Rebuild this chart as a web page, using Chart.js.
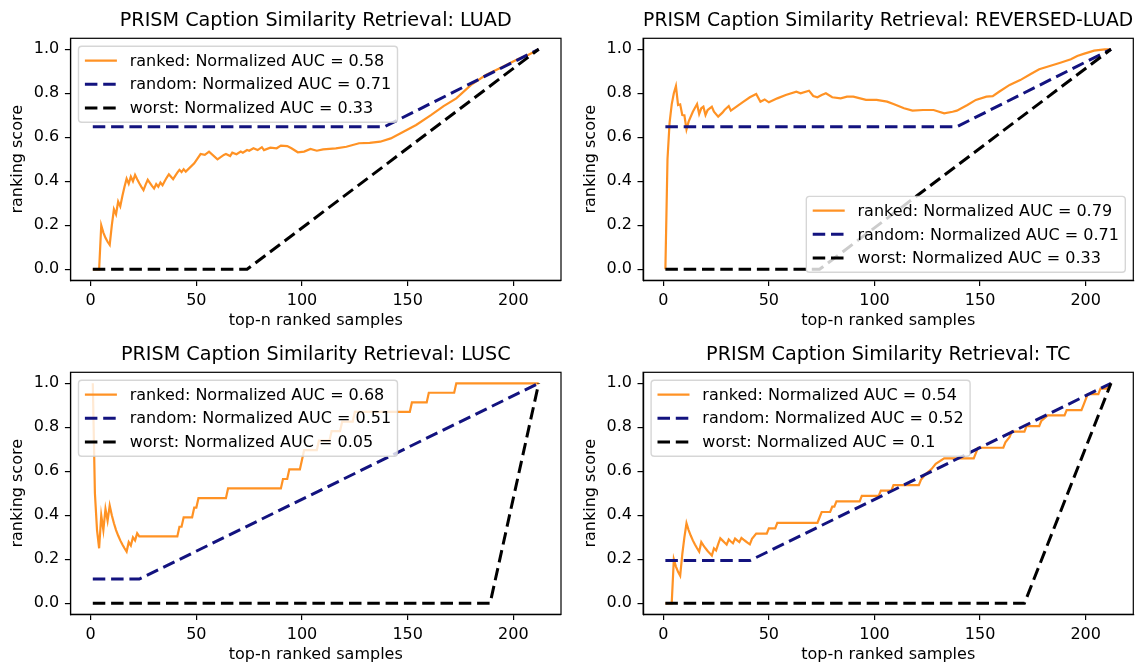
<!DOCTYPE html>
<html>
<head>
<meta charset="utf-8">
<script src="https://cdn.jsdelivr.net/npm/chart.js@4.4.1/dist/chart.umd.min.js"></script>
<style>
html,body{margin:0;padding:0;background:#fff;width:1145px;height:664px;overflow:hidden;position:relative;}
canvas{position:absolute;}
</style>
</head>
<body>
<canvas id="c1" width="572" height="340" style="left:0px;top:0px"></canvas>
<canvas id="c2" width="573" height="340" style="left:572px;top:0px"></canvas>
<canvas id="c3" width="572" height="340" style="left:0px;top:334px"></canvas>
<canvas id="c4" width="573" height="340" style="left:572px;top:334px"></canvas>
<script>
// ---------- data ----------
const xTicks = [0, 50, 100, 150, 200];
const yTicks = [0.0, 0.2, 0.4, 0.6, 0.8, 1.0];
const titles = [
  'PRISM Caption Similarity Retrieval: LUAD',
  'PRISM Caption Similarity Retrieval: REVERSED-LUAD',
  'PRISM Caption Similarity Retrieval: LUSC',
  'PRISM Caption Similarity Retrieval: TC'
];
const aucRanked = [0.58, 0.79, 0.68, 0.54];
const aucRandom = [0.71, 0.71, 0.51, 0.52];
const aucWorst  = [0.33, 0.33, 0.05, 0.1];

// LUAD
const luadRankedX = [1,2,3,4,5,6,7,8,9,10,11,12,13,14,15,16,17,18,19,20,21,22,23,24,25,26,27,28,29,30,31,32,33,34,35,36,37,38,39,40,41,42,43,44,45,49,52,54,56,60,63,64,66,67,69,71,72,74,75,77,79,81,82,85,88,90,93,95,98,101,104,107,110,116,121,127,132,137,142,148,154,161,167,173,180,187,195,202,207,212];
const luadRankedY = [0,0,0,0,0.2,0.167,0.143,0.125,0.111,0.2,0.273,0.25,0.308,0.286,0.333,0.375,0.412,0.389,0.421,0.4,0.429,0.409,0.391,0.375,0.36,0.385,0.407,0.393,0.379,0.367,0.387,0.375,0.394,0.382,0.4,0.417,0.432,0.421,0.41,0.425,0.439,0.452,0.442,0.455,0.444,0.482,0.524,0.52,0.535,0.5,0.52,0.524,0.515,0.53,0.523,0.535,0.53,0.542,0.539,0.55,0.542,0.555,0.542,0.553,0.55,0.562,0.56,0.55,0.532,0.535,0.547,0.539,0.545,0.55,0.557,0.573,0.575,0.58,0.595,0.625,0.656,0.701,0.742,0.777,0.838,0.883,0.921,0.955,0.974,1.0];
const luadRandomX = [1, 139, 212];
const luadRandomY = [0.648, 0.648, 1.0];
const luadWorstX  = [1, 74, 212];
const luadWorstY  = [0, 0, 1.0];

// REVERSED-LUAD
const revRankedX = [1,2,3,4,5,6,7,8,9,10,11,12,14,16,17,18,19,20,21,23,24,26,28,29,31,32,35,38,41,44,46,48,50,54,58,63,65,69,71,73,75,77,80,84,87,90,96,101,106,109,114,118,123,128,133,137,139,144,148,153,156,159,164,169,174,178,183,188,193,196,199,204,209,212];
const revRankedY = [0,0.5,0.667,0.75,0.8,0.833,0.747,0.75,0.701,0.7,0.636,0.671,0.716,0.751,0.706,0.732,0.739,0.701,0.724,0.739,0.716,0.694,0.712,0.724,0.742,0.721,0.742,0.762,0.782,0.797,0.762,0.772,0.759,0.777,0.792,0.807,0.8,0.812,0.788,0.782,0.792,0.8,0.782,0.777,0.785,0.785,0.77,0.77,0.762,0.751,0.732,0.721,0.724,0.724,0.709,0.716,0.721,0.747,0.77,0.785,0.787,0.807,0.838,0.86,0.888,0.909,0.924,0.939,0.955,0.97,0.979,0.994,1.0,1.0];
const revRandomX = [1, 139, 212];
const revRandomY = [0.648, 0.648, 1.0];
const revWorstX  = [1, 74, 212];
const revWorstY  = [0, 0, 1.0];

// LUSC
const luscRankedX = [1,2,3,4,5,6,7,8,9,10,11,12,13,14,15,16,17,18,19,20,21,22,23,41,42,43,44,48,49,50,51,64,65,90,91,93,94,99,100,101,107,108,113,114,118,119,124,125,151,152,159,160,172,173,212];
const luscRankedY = [1.0,0.5,0.333,0.25,0.4,0.333,0.429,0.375,0.444,0.4,0.364,0.333,0.308,0.286,0.267,0.25,0.235,0.278,0.263,0.3,0.286,0.318,0.304,0.304,0.348,0.348,0.391,0.391,0.435,0.435,0.478,0.478,0.522,0.522,0.565,0.565,0.609,0.609,0.652,0.696,0.696,0.739,0.739,0.783,0.783,0.826,0.826,0.870,0.870,0.913,0.913,0.957,0.957,1.0,1.0];
const luscRandomX = [1, 23, 212];
const luscRandomY = [0.11, 0.11, 1.0];
const luscWorstX  = [1, 189, 212];
const luscWorstY  = [0, 0, 1.0];

// TC
const tcRankedX = [1,2,3,4,5,6,7,8,9,10,11,12,13,14,15,16,17,18,19,20,21,22,23,24,25,26,27,28,29,30,31,32,33,34,35,36,37,38,39,40,41,42,44,49,50,53,54,73,74,75,79,80,81,82,93,94,102,103,108,109,121,122,124,127,129,133,147,148,149,161,162,164,165,171,172,178,179,182,190,191,198,199,200,201,206,207,210,212];
const tcRankedY = [0,0,0,0,0.2,0.167,0.143,0.125,0.222,0.3,0.364,0.333,0.308,0.286,0.267,0.25,0.235,0.278,0.263,0.25,0.238,0.227,0.217,0.25,0.24,0.269,0.296,0.286,0.276,0.267,0.29,0.281,0.273,0.294,0.286,0.278,0.297,0.289,0.282,0.275,0.268,0.293,0.317,0.317,0.341,0.341,0.366,0.366,0.39,0.415,0.415,0.439,0.439,0.463,0.463,0.488,0.488,0.512,0.512,0.537,0.537,0.561,0.585,0.61,0.634,0.659,0.659,0.683,0.707,0.707,0.732,0.756,0.78,0.78,0.805,0.805,0.829,0.854,0.854,0.878,0.878,0.902,0.927,0.951,0.951,0.976,0.976,1.0];
const tcRandomX = [1, 41, 212];
const tcRandomY = [0.194, 0.194, 1.0];
const tcWorstX  = [1, 171, 212];
const tcWorstY  = [0, 0, 1.0];

// ---------- styling / layout ----------
const FONT = '"DejaVu Sans", sans-serif';
Chart.defaults.font.family = FONT;
Chart.defaults.color = '#000';
const ORANGE = '#ff9224';
const NAVY = '#13137f';
const DASH = [12.5, 5.8];

function pts(xs, ys) { return xs.map((x, i) => ({x: x, y: ys[i]})); }

const boxLegend = {
  id: 'boxLegend',
  afterDatasetsDraw(chart, args, opts) {
    const ctx = chart.ctx, ca = chart.chartArea;
    ctx.save();
    ctx.strokeStyle = '#000';
    ctx.lineWidth = 1.2;
    ctx.strokeRect(ca.left, ca.top, ca.right - ca.left, ca.bottom - ca.top);
    const fs = 16;
    ctx.font = fs + 'px ' + FONT;
    const ds = chart.data.datasets;
    const widths = ds.map(d => ctx.measureText(d.label).width);
    const pad = 6.4, hl = 32, htp = 12.8, rowH = 15.7, ls = 8, bap = 8;
    const W = pad * 2 + hl + htp + Math.max(...widths);
    const H = pad * 2 + ds.length * rowH + (ds.length - 1) * ls;
    let x0, y0;
    if (opts.pos === 'lr') { x0 = ca.right - bap - W; y0 = ca.bottom - bap - H; }
    else { x0 = ca.left + bap; y0 = ca.top + bap; }
    const r = 3.2;
    ctx.beginPath();
    ctx.moveTo(x0 + r, y0);
    ctx.lineTo(x0 + W - r, y0); ctx.arcTo(x0 + W, y0, x0 + W, y0 + r, r);
    ctx.lineTo(x0 + W, y0 + H - r); ctx.arcTo(x0 + W, y0 + H, x0 + W - r, y0 + H, r);
    ctx.lineTo(x0 + r, y0 + H); ctx.arcTo(x0, y0 + H, x0, y0 + H - r, r);
    ctx.lineTo(x0, y0 + r); ctx.arcTo(x0, y0, x0 + r, y0, r);
    ctx.closePath();
    ctx.fillStyle = 'rgba(255,255,255,0.8)';
    ctx.fill();
    ctx.strokeStyle = 'rgba(204,204,204,0.8)';
    ctx.lineWidth = 1.4;
    ctx.stroke();
    ds.forEach((d, i) => {
      const cy = y0 + pad + rowH / 2 + i * (rowH + ls);
      ctx.save();
      ctx.strokeStyle = d.borderColor;
      ctx.lineWidth = d.borderWidth;
      ctx.setLineDash(d.borderDash || []);
      ctx.beginPath();
      ctx.moveTo(x0 + pad, cy);
      ctx.lineTo(x0 + pad + hl, cy);
      ctx.stroke();
      ctx.restore();
      ctx.fillStyle = '#000';
      ctx.textBaseline = 'middle';
      ctx.textAlign = 'left';
      ctx.fillText(d.label, x0 + pad + hl + htp, cy + 1);
    });
    ctx.restore();
  }
};

const panels = [
  {id: 'c1', canvasLeft: 0,   areaLeft: 70.5,  areaRight: 561.0,  legend: 'ul', rx: luadRankedX, ry: luadRankedY, ax: luadRandomX, ay: luadRandomY, wx: luadWorstX, wy: luadWorstY},
  {id: 'c2', canvasLeft: 572, areaLeft: 643.1, areaRight: 1133.3, legend: 'lr', rx: revRankedX,  ry: revRankedY,  ax: revRandomX,  ay: revRandomY,  wx: revWorstX,  wy: revWorstY},
  {id: 'c3', canvasLeft: 0,   areaLeft: 70.5,  areaRight: 561.0,  legend: 'ul', rx: luscRankedX, ry: luscRankedY, ax: luscRandomX, ay: luscRandomY, wx: luscWorstX, wy: luscWorstY},
  {id: 'c4', canvasLeft: 572, areaLeft: 643.1, areaRight: 1133.3, legend: 'ul', rx: tcRankedX,   ry: tcRankedY,   ax: tcRandomX,   ay: tcRandomY,   wx: tcWorstX,   wy: tcWorstY}
];

panels.forEach((p, k) => {
  const canvas = document.getElementById(p.id);
  const cw = canvas.width, ch = canvas.height;
  const areaTop = 38.3, areaBottom = 280.3;
  const yAxisW = p.areaLeft - p.canvasLeft;
  const xAxisH = ch - areaBottom;
  const ylabelCenter = p.areaLeft - 70.5 + 18.3 - p.canvasLeft;
  const tickFont = {size: 16, family: FONT};
  new Chart(canvas, {
    type: 'line',
    data: {
      datasets: [
        {label: 'ranked: Normalized AUC = ' + aucRanked[k], data: pts(p.rx, p.ry), borderColor: ORANGE, borderWidth: 2.2, order: 2, fill: false},
        {label: 'random: Normalized AUC = ' + aucRandom[k], data: pts(p.ax, p.ay), borderColor: NAVY, borderWidth: 3, borderDash: DASH, order: 1, fill: false},
        {label: 'worst: Normalized AUC = ' + aucWorst[k], data: pts(p.wx, p.wy), borderColor: '#000', borderWidth: 3, borderDash: DASH, order: 0, fill: false}
      ]
    },
    options: {
      responsive: false,
      animation: false,
      devicePixelRatio: 1,
      layout: {padding: {left: 0, top: 0, bottom: 0, right: p.canvasLeft + cw - p.areaRight}},
      elements: {point: {radius: 0, hoverRadius: 0}, line: {tension: 0}},
      plugins: {
        legend: {display: false},
        tooltip: {enabled: false},
        title: {display: true, fullSize: false, text: titles[k], color: '#000', font: {size: 19.2, family: FONT, weight: 'normal'}, padding: {top: 9, bottom: areaTop - 9 - 19.2 * 1.2}},
        boxLegend: {pos: p.legend}
      },
      scales: {
        x: {
          type: 'linear', min: -9.55, max: 222.55,
          afterBuildTicks: s => { s.ticks = xTicks.map(v => ({value: v})); },
          afterFit: s => { s.height = xAxisH; },
          ticks: {font: tickFont, color: '#000', padding: 5.6, maxRotation: 0, autoSkip: false, callback: v => String(v)},
          grid: {drawOnChartArea: false, drawTicks: true, tickLength: 5.6, color: '#000', lineWidth: 1.2},
          border: {display: true, color: '#000', width: 1.2},
          title: {display: true, text: 'top-n ranked samples', color: '#000', font: tickFont, padding: {top: 0, bottom: ch - 320.8 - 9.6}}
        },
        y: {
          type: 'linear', min: -0.05, max: 1.05,
          afterBuildTicks: s => { s.ticks = yTicks.map(v => ({value: v})); },
          afterFit: s => { s.width = yAxisW; },
          ticks: {font: tickFont, color: '#000', padding: 5.6, autoSkip: false, callback: v => Number(v).toFixed(1)},
          grid: {drawOnChartArea: false, drawTicks: true, tickLength: 5.6, color: '#000', lineWidth: 1.2},
          border: {display: true, color: '#000', width: 1.2},
          title: {display: true, text: 'ranking score', color: '#000', font: tickFont, padding: {top: ylabelCenter - 9.6, bottom: 0}}
        }
      }
    },
    plugins: [boxLegend]
  });
});
</script>
</body>
</html>
